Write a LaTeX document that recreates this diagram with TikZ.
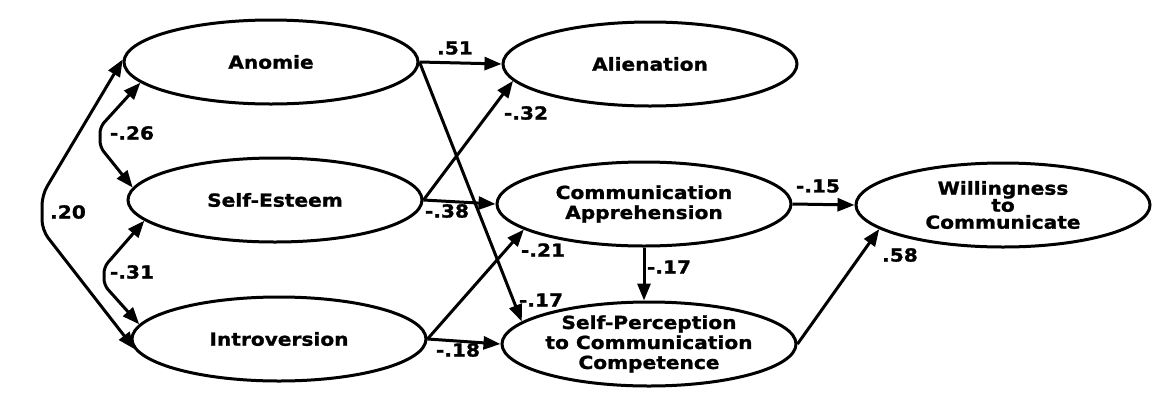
\documentclass[tikz,border=0pt]{standalone}
\usepackage{fontspec}
\newfontfamily\lblfont{DejaVu Sans}[FakeStretch=1.12,BoldFeatures={FakeBold=1.2}]
\usetikzlibrary{shapes.geometric,arrows.meta}
\begin{document}
\begin{tikzpicture}[x=1pt,y=-1pt,
  var/.style={ellipse,draw,line width=3pt,minimum width=294pt,minimum height=84pt,inner sep=0pt,
    align=center,font=\lblfont\bfseries\fontsize{18}{20}\selectfont},
  path/.style={line width=3pt,-{Triangle[length=17pt,width=13pt]}},
  corr/.style={line width=3pt,{Triangle[length=17pt,width=13pt]}-{Triangle[length=17pt,width=13pt]},rounded corners=6pt},
  lbl/.style={font=\lblfont\bfseries\fontsize{18}{20}\selectfont,inner sep=0pt}]
\useasboundingbox (0,0) rectangle (1163,416);
\fill[white] (0,0) rectangle (1163,416);
% nodes
\node[var] (anomie) at (271,62) {Anomie};
\node[var] (se) at (275,200) {Self-Esteem};
\node[var] (intro) at (279,339) {Introversion};
\node[var] (alien) at (650,64) {Alienation};
\node[var] (ca) at (644,204) {Communication\\Apprehension};
\node[var] (sp) at (649,344) {Self-Perception\\to Communication\\Competence};
\node[var,font=\lblfont\bfseries\fontsize{18}{17}\selectfont] (wtc) at (1003,205) {Willingness\\to\\Communicate};
% bend points
\coordinate (a1) at (100,127);
\coordinate (a2) at (100,147);
\coordinate (b1) at (104,267);
\coordinate (b2) at (104,285);
\coordinate (c1) at (42,195);
\coordinate (c2) at (42,230);
% correlations
\draw[corr] (anomie.189) -- (a1) -- (a2) -- (se.175);
\draw[corr] (se.189) -- (b1) -- (b2) -- (intro.174);
\draw[corr,rounded corners=10pt] (anomie.179) -- (c1) -- (c2) -- (intro.184);
% paths
\draw[path] (anomie.east) -- (alien.west);
\draw[path] (anomie.east) -- (sp.170);
\draw[path] (se.east) -- (alien.187);
\draw[path] (se.east) -- (ca.west);
\draw[path] (intro.east) -- (ca.192);
\draw[path] (intro.east) -- (sp.west);
\draw[path] (ca.south) -- (ca.south |- sp.north);
\draw[path] (ca.east) -- (wtc.west);
\draw[path] (sp.east) -- (wtc.191);
% labels
\node[lbl] (l51) at (455,48) {.51};
\node[lbl] (l17a) at (541,300) {-.17};
\node[lbl] (l32) at (526,113) {-.32};
\node[lbl] (l38) at (447,211) {-.38};
\node[lbl] (l21) at (543,250) {-.21};
\node[lbl] (l18) at (458,350) {-.18};
\node[lbl] (l17b) at (669,267) {-.17};
\node[lbl] (l15) at (818,186) {-.15};
\node[lbl] (l58) at (900,255) {.58};
\node[lbl] (l26) at (132,133) {-.26};
\node[lbl] (l31) at (132,272) {-.31};
\node[lbl] (l20) at (68,212) {.20};
\end{tikzpicture}
\end{document}
